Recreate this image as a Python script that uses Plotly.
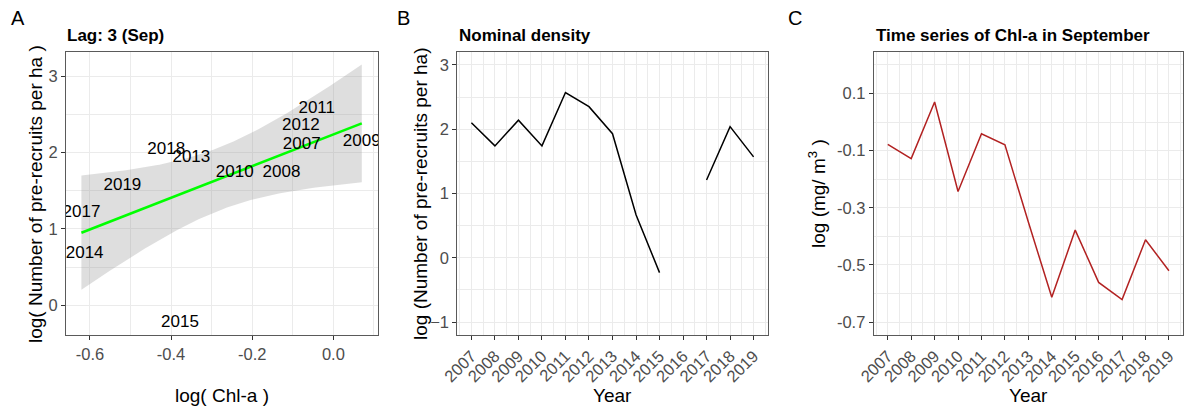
import numpy as np
import plotly.graph_objects as go

# ---------------- data ----------------
years = [2007, 2008, 2009, 2010, 2011, 2012, 2013, 2014, 2015, 2016, 2017, 2018, 2019]
year_labels = [str(y) for y in years]
density = [2.10, 1.74, 2.14, 1.74, 2.57, 2.35, 1.93, 0.67, -0.23, None, 1.21, 2.04, 1.57]
chla = [-0.078, -0.128, 0.070, -0.243, -0.041, -0.080, -0.350, -0.613, -0.378, -0.561, -0.621, -0.412, -0.520]

# paired points (years with both values) for panel A
pair_years = [y for y, d in zip(years, density) if d is not None]
pair_x = np.array([c for c, d in zip(chla, density) if d is not None])
pair_y = np.array([d for d in density if d is not None])

# linear fit with 95% confidence band (like geom_smooth(method="lm"))
n = len(pair_x)
slope, intercept = np.polyfit(pair_x, pair_y, 1)
resid = pair_y - (intercept + slope * pair_x)
s = np.sqrt(np.sum(resid ** 2) / (n - 2))
xm = pair_x.mean()
sxx = np.sum((pair_x - xm) ** 2)
t_crit = 2.228  # t(0.975, df=10)
xg = np.linspace(pair_x.min(), pair_x.max(), 80)
yg = intercept + slope * xg
se = s * np.sqrt(1.0 / n + (xg - xm) ** 2 / sxx)
lo = yg - t_crit * se
hi = yg + t_crit * se

W, H = 1184, 408
FONT = "Liberation Sans, Arial, sans-serif"
TICKC = "#4D4D4D"
GRID = "#EBEBEB"
BORDER = "#5a5a5a"


def px(x):
    return x / W


def py(y):
    return 1 - y / H


fig = go.Figure()

# Panel A
fig.add_trace(go.Scatter(x=np.concatenate([xg, xg[::-1]]), y=np.concatenate([hi, lo[::-1]]),
                         fill="toself", fillcolor="rgba(153,153,153,0.32)", line=dict(width=0),
                         mode="lines", hoverinfo="skip", showlegend=False, xaxis="x", yaxis="y"))
fig.add_trace(go.Scatter(x=xg, y=yg, mode="lines", line=dict(color="#00FF00", width=2.6),
                         showlegend=False, xaxis="x", yaxis="y"))
fig.add_trace(go.Scatter(x=pair_x, y=pair_y, mode="text", text=[str(y) for y in pair_years],
                         textposition="middle center", textfont=dict(family=FONT, size=17, color="black"),
                         showlegend=False, xaxis="x", yaxis="y", cliponaxis=True))

# Panel B
fig.add_trace(go.Scatter(x=years, y=density, mode="lines", line=dict(color="black", width=1.5),
                         connectgaps=False, showlegend=False, xaxis="x2", yaxis="y2"))

# Panel C
fig.add_trace(go.Scatter(x=years, y=chla, mode="lines", line=dict(color="#B22222", width=1.5),
                         showlegend=False, xaxis="x3", yaxis="y3"))

ydom = [py(335), py(52)]

common = dict(showline=True, mirror=True, linecolor=BORDER, linewidth=1,
              ticks="outside", ticklen=4, tickcolor="#333333", tickwidth=1,
              tickfont=dict(family=FONT, size=16.5, color=TICKC),
              showgrid=True, gridcolor=GRID, gridwidth=1, zeroline=False, automargin=False)

minor_grid = dict(showgrid=True, gridcolor=GRID, gridwidth=0.6, ticks="")

fig.update_layout(
    template="none",
    width=W, height=H, margin=dict(l=0, r=0, t=0, b=0, pad=0, autoexpand=False),
    paper_bgcolor="white", plot_bgcolor="white", showlegend=False,
    xaxis=dict(domain=[px(66), px(378)], range=[-0.659, 0.110], anchor="y",
               tickvals=[-0.6, -0.4, -0.2, 0.0], ticktext=["-0.6", "-0.4", "-0.2", "0.0"],
               minor=dict(tickvals=[-0.5, -0.3, -0.1, 0.1], **minor_grid), **common),
    yaxis=dict(domain=ydom, range=[-0.39, 3.32], anchor="x",
               tickvals=[0, 1, 2, 3],
               minor=dict(tickvals=[0.5, 1.5, 2.5], **minor_grid), **common),
    xaxis2=dict(domain=[px(457.3), px(767.7)], range=[2006.4, 2019.6], anchor="y2",
                tickvals=years, ticktext=year_labels, tickangle=-45,
                minor=dict(tickvals=[y + 0.5 for y in years[:-1]] + [2006.5, 2019.5], **minor_grid), **common),
    yaxis2=dict(domain=ydom, range=[-1.2, 3.2], anchor="x2",
                tickvals=[-1, 0, 1, 2, 3],
                minor=dict(tickvals=[-0.5, 0.5, 1.5, 2.5], **minor_grid), **common),
    xaxis3=dict(domain=[px(873.7), px(1183)], range=[2006.4, 2019.6], anchor="y3",
                tickvals=years, ticktext=year_labels, tickangle=-45,
                minor=dict(tickvals=[y + 0.5 for y in years[:-1]] + [2006.5, 2019.5], **minor_grid), **common),
    yaxis3=dict(domain=ydom, range=[-0.745, 0.245], anchor="x3",
                tickvals=[-0.7, -0.5, -0.3, -0.1, 0.1], ticktext=["-0.7", "-0.5", "-0.3", "-0.1", "0.1"],
                minor=dict(tickvals=[-0.6, -0.4, -0.2, 0.0, 0.2], **minor_grid), **common),
)

ann = []


def add_text(text, x, y, size, xanchor="left", yanchor="middle", bold=False, angle=0, color="black"):
    if bold:
        text = "<b>" + text + "</b>"
    ann.append(dict(text=text, x=px(x), y=py(y), xref="paper", yref="paper",
                    xanchor=xanchor, yanchor=yanchor, showarrow=False, textangle=angle,
                    font=dict(family=FONT, size=size, color=color)))


# panel letters
add_text("A", 9, 18, 20)
add_text("B", 395, 18, 20)
add_text("C", 786, 18, 20)
# titles
add_text("Lag: 3 (Sep)", 65, 35, 17, bold=True)
add_text("Nominal density", 457, 35, 17, bold=True)
add_text("Time series of Chl-a in September", 874, 35, 17, bold=True)
# x titles
add_text("log( Chl-a )", 222, 395, 19, xanchor="center")
add_text("Year", 612, 395, 19, xanchor="center")
add_text("Year", 1028, 395, 19, xanchor="center")
# y titles
add_text("log( Number of pre-recruits per ha )", 35, 194, 19, xanchor="center", angle=-90)
add_text("log (Number of pre-recruits per ha)", 420, 194, 19, xanchor="center", angle=-90)
add_text("log (mg/ m<sup>3</sup> )", 817, 194, 19, xanchor="center", angle=-90)

fig.update_layout(annotations=ann)

fig.write_html("out.html")
